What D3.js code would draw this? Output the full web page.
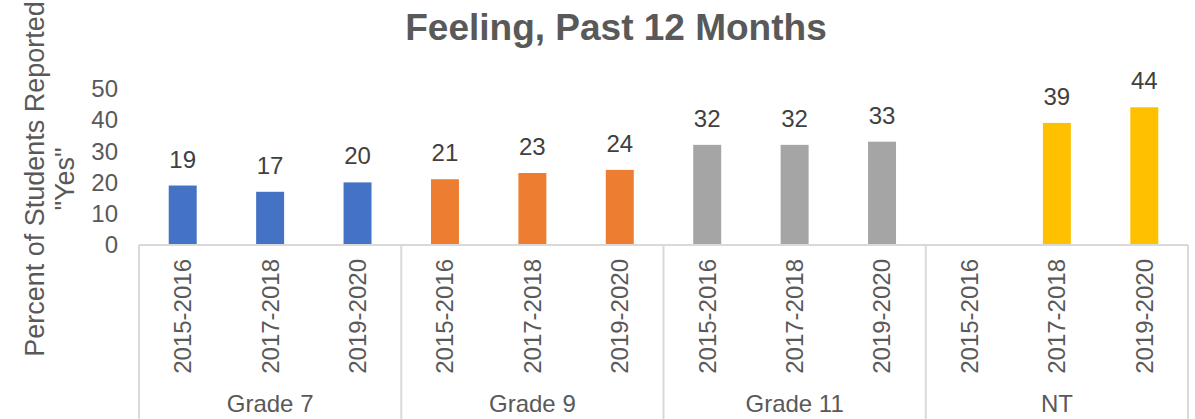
<!DOCTYPE html>
<html>
<head>
<meta charset="utf-8">
<script src="https://cdn.jsdelivr.net/npm/d3@7.9.0/dist/d3.min.js"></script>
<style>
  body { margin: 0; background: #fff; }
  svg { display: block; font-family: "Liberation Sans", Arial, sans-serif; }
</style>
</head>
<body>
<svg id="chart" width="1195" height="419"></svg>
<script>
// chart data
const groups = ['Grade 7', 'Grade 9', 'Grade 11', 'NT'];
const years = ['2015-2016', '2017-2018', '2019-2020'];
const grade7 = [19, 17, 20];
const grade9 = [21, 23, 24];
const grade11 = [32, 32, 33];
const nt = [null, 39, 44];
const yTicks = [0, 10, 20, 30, 40, 50];
const groupColors = ['#4472C4', '#ED7D31', '#A5A5A5', '#FFC000'];

const series = [grade7, grade9, grade11, nt];
const rows = [];
groups.forEach((g, gi) => {
    years.forEach((yr, yi) => {
        rows.push({ group: g, year: yr, value: series[gi][yi], color: groupColors[gi] });
    });
});

const svg = d3.select('#chart');
const plotLeft = 139, plotRight = 1188, plotBase = 245, plotTop = 88.5;
const axisColor = '#d9d9d9';
const textColor = '#595959';

const x0 = d3.scaleBand().domain(groups).range([plotLeft, plotRight]);
const x1 = d3.scaleBand().domain(years).range([0, x0.bandwidth()])
    .paddingInner(0.68).paddingOuter(0.34);
const y = d3.scaleLinear().domain([0, 50]).range([plotBase, plotTop]);

// title (only its second line is inside the picture)
svg.append('text')
    .attr('x', 616)
    .attr('y', 39.5)
    .attr('text-anchor', 'middle')
    .attr('font-size', 37)
    .attr('font-weight', 'bold')
    .attr('fill', textColor)
    .text('Feeling, Past 12 Months');

// y axis label
const yLab = svg.append('text')
    .attr('transform', 'translate(0,179) rotate(-90)')
    .attr('text-anchor', 'middle')
    .attr('font-size', 27)
    .attr('fill', textColor);
yLab.append('tspan').attr('x', 0).attr('y', 44).text('Percent of Students Reported');
yLab.append('tspan').attr('x', 0).attr('y', 74).text('"Yes"');

// y ticks (no axis line, no grid)
svg.append('g').selectAll('text')
    .data(yTicks)
    .join('text')
    .attr('x', 118)
    .attr('y', d => y(d))
    .attr('dy', '0.35em')
    .attr('text-anchor', 'end')
    .attr('font-size', 24)
    .attr('fill', textColor)
    .text(d => d);

// bars
const barData = rows.filter(d => d.value != null);
svg.append('g').selectAll('rect')
    .data(barData)
    .join('rect')
    .attr('x', d => x0(d.group) + x1(d.year))
    .attr('y', d => y(d.value))
    .attr('width', x1.bandwidth())
    .attr('height', d => plotBase - y(d.value))
    .attr('fill', d => d.color);

// data labels
svg.append('g').selectAll('text')
    .data(barData)
    .join('text')
    .attr('x', d => x0(d.group) + x1(d.year) + x1.bandwidth() / 2)
    .attr('y', d => y(d.value) - 18)
    .attr('text-anchor', 'middle')
    .attr('font-size', 24)
    .attr('fill', '#404040')
    .text(d => d.value);

// category axis line and group separators
svg.append('line')
    .attr('x1', plotLeft).attr('x2', plotRight)
    .attr('y1', plotBase).attr('y2', plotBase)
    .attr('stroke', axisColor).attr('stroke-width', 2);

const seps = groups.map(g => x0(g)).concat([plotRight]);
svg.append('g').selectAll('line')
    .data(seps)
    .join('line')
    .attr('x1', d => d).attr('x2', d => d)
    .attr('y1', plotBase).attr('y2', 419)
    .attr('stroke', axisColor).attr('stroke-width', 2);

// year labels, rotated
svg.append('g').selectAll('text')
    .data(rows)
    .join('text')
    .attr('transform', d => {
        const cx = x0(d.group) + x1(d.year) + x1.bandwidth() / 2;
        return `translate(${cx},259) rotate(-90)`;
    })
    .attr('text-anchor', 'end')
    .attr('dy', '0.35em')
    .attr('font-size', 24)
    .attr('fill', textColor)
    .text(d => d.year);

// group labels
svg.append('g').selectAll('text')
    .data(groups)
    .join('text')
    .attr('x', d => x0(d) + x0.bandwidth() / 2)
    .attr('y', 412)
    .attr('text-anchor', 'middle')
    .attr('font-size', 24)
    .attr('fill', textColor)
    .text(d => d);
</script>
</body>
</html>
